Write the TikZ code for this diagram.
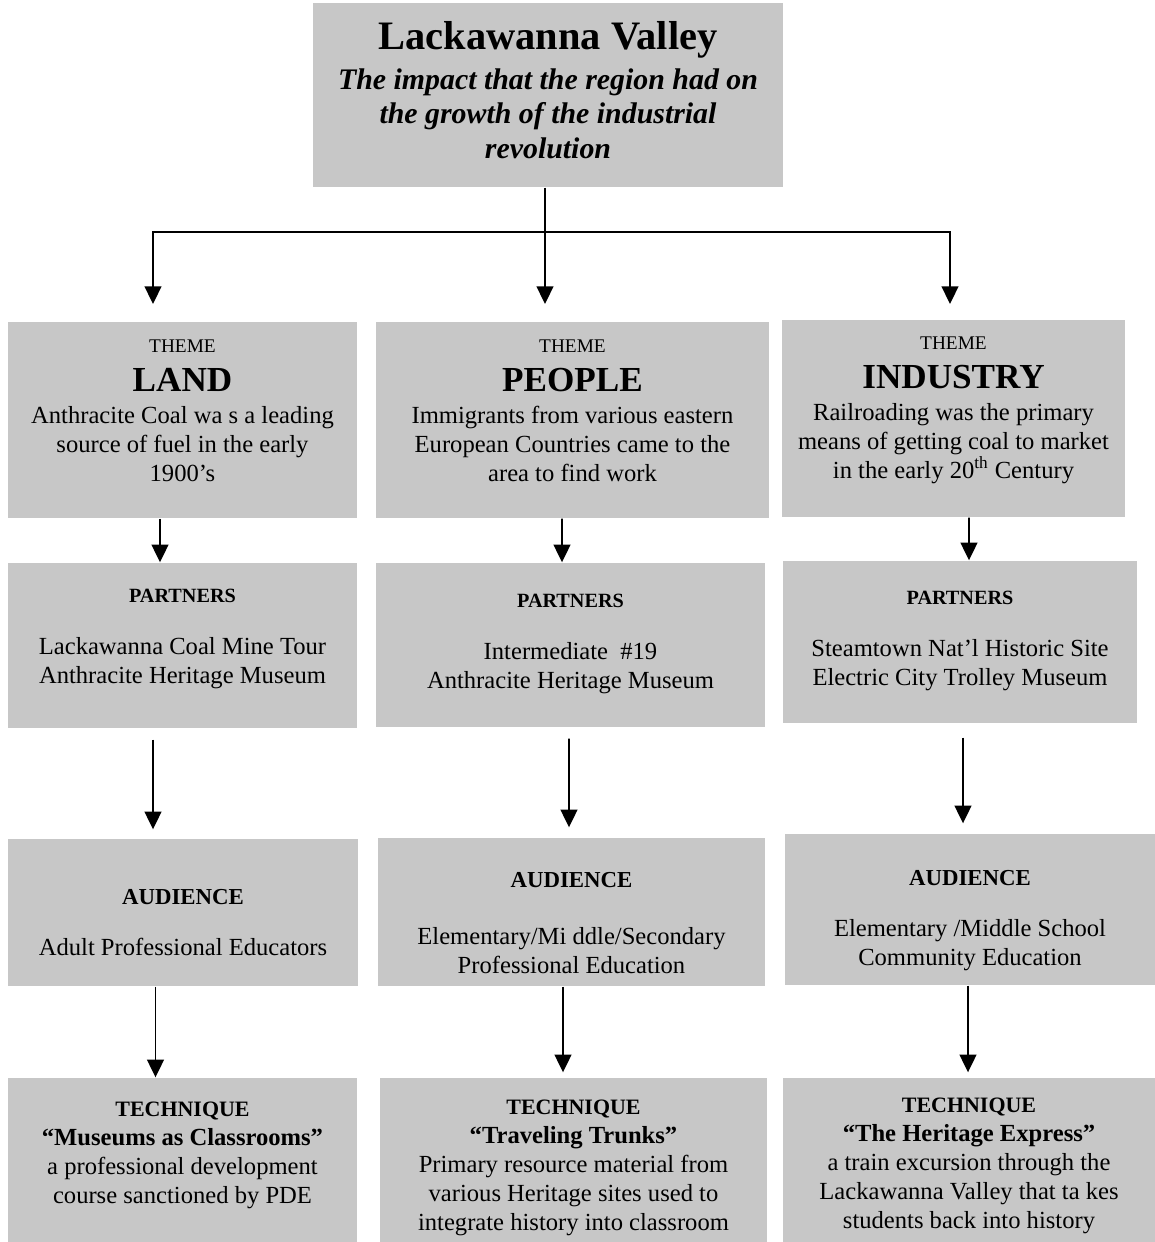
\documentclass[tikz,border=0pt]{standalone}
\usepackage{fontspec}
\setmainfont{Liberation Serif}
\usetikzlibrary{arrows.meta}

\begin{document}
\begin{tikzpicture}[thick,
    box/.style={rectangle, fill=black!22, align=center, inner sep=0pt,
      font=\fontsize{14}{16.5}\selectfont},
    arr/.style={-{Triangle[length=10pt,width=9.5pt]}, line width=1pt}]
        \useasboundingbox (0,0) rectangle (23.1,-24.84);

        % top
        \node[box, minimum width=9.4cm, text height=3.10cm, text depth=0.58cm, font=\fontsize{17}{19.5}\selectfont] (title) at (10.96,-1.90)
          {{\fontsize{23}{26}\selectfont\bfseries Lackawanna Valley}\\[3pt]
           \bfseries\itshape The impact that the region had on\\
           \bfseries\itshape the growth of the industrial\\
           \bfseries\itshape revolution};
        \coordinate (split) at (10.90,-4.64);
        \coordinate (landin) at (3.06,-6.08);
        \coordinate (peoplein) at (10.90,-6.08);
        \coordinate (industryin) at (19.00,-6.08);

        % themes
        \node[box, minimum width=6.98cm, text height=3.18cm, text depth=0.74cm] (landtheme) at (3.65,-8.40)
          {{\fontsize{11}{13}\selectfont THEME}\\[5.5pt]
           {\fontsize{20}{24}\selectfont\bfseries LAND}\\[1.5pt]
           Anthracite Coal wa s a leading\\ source of fuel in the early\\ 1900's};
        \node[box, minimum width=7.86cm, text height=3.18cm, text depth=0.74cm] (peopletheme) at (11.45,-8.40)
          {{\fontsize{11}{13}\selectfont THEME}\\[5.5pt]
           {\fontsize{20}{24}\selectfont\bfseries PEOPLE}\\[1.5pt]
           Immigrants from various eastern\\ European Countries came to the\\ area to find work};
        \node[box, minimum width=6.86cm, text height=3.16cm, text depth=0.78cm] (industrytheme) at (19.07,-8.37)
          {{\fontsize{11}{13}\selectfont THEME}\\[5.5pt]
           {\fontsize{20}{24}\selectfont\bfseries INDUSTRY}\\[1.5pt]
           Railroading was the primary\\ means of getting coal to market\\ in the early 20\textsuperscript{th} Century};

        % partners
        \node[box, minimum width=6.98cm, text height=2.40cm, text depth=0.90cm] (landpart) at (3.65,-12.91)
          {{\fontsize{11.5}{13}\selectfont\bfseries PARTNERS}\\[13pt]
           Lackawanna Coal Mine Tour\\ Anthracite Heritage Museum};
        \node[box, minimum width=7.78cm, text height=2.50cm, text depth=0.78cm] (peoplepart) at (11.41,-12.90)
          {{\fontsize{11.5}{13}\selectfont\bfseries PARTNERS}\\[13pt]
           Intermediate~ \#19\\ Anthracite Heritage Museum};
        \node[box, minimum width=7.08cm, text height=2.48cm, text depth=0.76cm] (industrypart) at (19.20,-12.84)
          {{\fontsize{11.5}{13}\selectfont\bfseries PARTNERS}\\[13pt]
           Steamtown Nat'l Historic Site\\ Electric City Trolley Museum};

        % audience
        \node[box, minimum width=7.00cm, text height=2.32cm, text depth=0.62cm] (landaud) at (3.66,-18.25)
          {{\fontsize{13}{15}\selectfont\bfseries AUDIENCE}\\[12.5pt]
           Adult Professional Educators};
        \node[box, minimum width=7.74cm, text height=2.70cm, text depth=0.26cm] (peopleaud) at (11.43,-18.24)
          {{\fontsize{13}{15}\selectfont\bfseries AUDIENCE}\\[15.5pt]
           Elementary/Mi ddle/Secondary\\ Professional Education};
        \node[box, minimum width=7.40cm, text height=2.62cm, text depth=0.40cm] (industryaud) at (19.40,-18.19)
          {{\fontsize{13}{15}\selectfont\bfseries AUDIENCE}\\[12.5pt]
           Elementary /Middle School\\ Community Education};

        % technique
        \node[box, minimum width=6.98cm, text height=2.50cm, text depth=0.78cm] (landtech) at (3.65,-23.20)
          {{\fontsize{12.5}{15}\selectfont\bfseries TECHNIQUE}\\
           {\bfseries ``Museums as Classrooms''}\\
           a professional development\\ course sanctioned by PDE};
        \node[box, minimum width=7.74cm, text height=3.04cm, text depth=0.24cm] (peopletech) at (11.47,-23.20)
          {{\fontsize{12.5}{15}\selectfont\bfseries TECHNIQUE}\\
           {\bfseries ``Traveling Trunks''}\\
           Primary resource material from\\ various Heritage sites used to\\ integrate history into classroom};
        \node[box, minimum width=7.44cm, text height=3.00cm, text depth=0.28cm] (industrytech) at (19.38,-23.20)
          {{\fontsize{12.5}{15}\selectfont\bfseries TECHNIQUE}\\
           {\bfseries ``The Heritage Express''}\\
           a train excursion through the\\ Lackawanna Valley that ta kes\\ students back into history};

        \draw[line width=1pt] (title.south -| split) -- (split);
        \draw[arr] (split) -| (landin);
        \draw[arr] (split) -- (peoplein);
        \draw[arr] (split) -| (industryin);

        \draw[arr] ([xshift=-0.45cm]landtheme.south) -- ([xshift=-0.45cm]landpart.north);
        \draw[arr] ([xshift=-0.21cm]peopletheme.south) -- ([xshift=-0.17cm]peoplepart.north);
        \draw[arr] ([xshift=0.31cm]industrytheme.south) -- ([xshift=0.18cm]industrypart.north);

        \draw[arr, shorten <=0.22cm, shorten >=0.18cm] ([xshift=-0.59cm]landpart.south) -- ([xshift=-0.60cm]landaud.north);
        \draw[arr, shorten <=0.22cm, shorten >=0.2cm] ([xshift=-0.03cm]peoplepart.south) -- ([xshift=-0.05cm]peopleaud.north);
        \draw[arr, shorten <=0.28cm, shorten >=0.2cm] ([xshift=0.06cm]industrypart.south) -- ([xshift=-0.14cm]industryaud.north);

        \draw[arr] ([xshift=-0.55cm]landaud.south) -- ([xshift=-0.54cm]landtech.north);
        \draw[arr, shorten >=0.1cm] ([xshift=-0.17cm]peopleaud.south) -- ([xshift=-0.21cm]peopletech.north);
        \draw[arr, shorten >=0.1cm] ([xshift=-0.04cm]industryaud.south) -- ([xshift=-0.02cm]industrytech.north);
      \end{tikzpicture}
\end{document}
